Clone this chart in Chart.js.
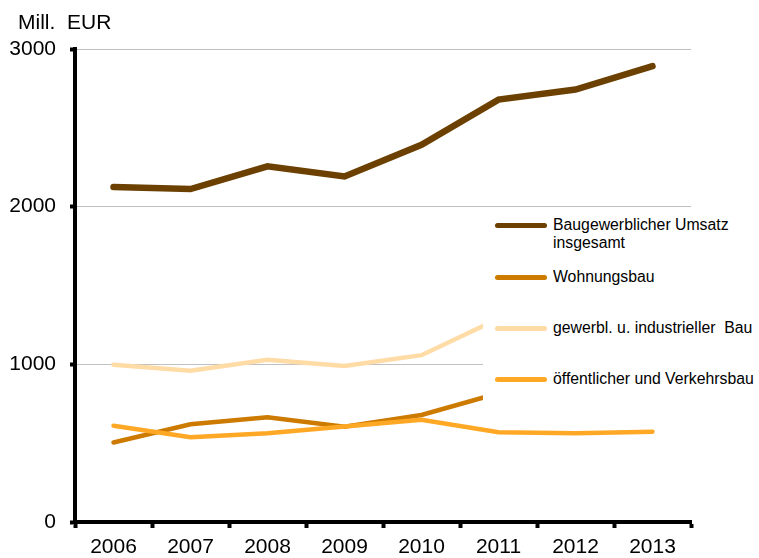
<!DOCTYPE html>
<html>
<head>
<meta charset="utf-8">
<script src="https://cdn.jsdelivr.net/npm/chart.js@4/dist/chart.umd.min.js"></script>
<style>
  body { margin: 0; background: #fff; font-family: "Liberation Sans", Arial, sans-serif; }
  #wrap { position: relative; width: 759px; height: 558px; }
  #unit { position: absolute; left: 18px; top: 10px; font-size: 21px; color: #000; white-space: pre; }
  #legend { position: absolute; left: 483px; top: 211px; width: 276px; height: 190px; background: #fff; font-size: 15.8px; color: #000; }
  .item { position: absolute; left: 12px; }
  .item span.ln { position: absolute; left: 0; width: 52px; height: 5px; border-radius: 3px; }
  .item span.tx { position: absolute; left: 58px; top: -9px; white-space: pre; line-height: 18px; }
</style>
</head>
<body>
<div id="wrap">
  <canvas id="myChart" width="759" height="558"></canvas>
  <div id="unit">Mill.  EUR</div>
  <div id="legend"></div>
</div>
<script>
'use strict';

// categories and values (Mill. EUR)
var years = ['2006', '2007', '2008', '2009', '2010', '2011', '2012', '2013'];
var yTicks = [0, 1000, 2000, 3000];

var gesamt = [2124, 2112, 2256, 2192, 2392, 2679, 2743, 2891];
var wohnungsbau = [504, 620, 665, 605, 679, 816, 850, 890];
var gewerbl = [997, 959, 1029, 990, 1058, 1289, 1330, 1390];
var oeffentlich = [611, 538, 563, 605, 648, 570, 563, 573];

var seriesNames = ['Baugewerblicher Umsatz\ninsgesamt', 'Wohnungsbau', 'gewerbl. u. industrieller  Bau', 'öffentlicher und Verkehrsbau'];
var seriesColors = ['#6b4000', '#cc7a00', '#ffdba6', '#ffa826'];
var seriesWidths = [6.5, 4.5, 4.5, 4.5];
var allValues = [gesamt, wohnungsbau, gewerbl, oeffentlich];

var datasets = [];
for (var i = 0; i < allValues.length; i++) {
    datasets.push({
        label: seriesNames[i],
        data: allValues[i],
        borderColor: seriesColors[i],
        backgroundColor: seriesColors[i],
        borderWidth: seriesWidths[i],
        borderCapStyle: 'round',
        pointRadius: 0,
        tension: 0,
        fill: false
    });
}
// draw the dark line last so it sits on top
datasets.reverse();

var font = { family: '"Liberation Sans", Arial, sans-serif', size: 21 };

var ctx = document.getElementById('myChart').getContext('2d');
var chart = new Chart(ctx, {
    type: 'line',
    data: { labels: years, datasets: datasets },
    options: {
        responsive: false,
        animation: false,
        layout: { padding: { left: 0, top: 49, right: 68, bottom: 0 } },
        plugins: { legend: { display: false }, tooltip: { enabled: false } },
        scales: {
            x: {
                offset: true,
                grid: { offset: true, drawOnChartArea: false, tickColor: '#000', tickLength: 6, tickWidth: 4 },
                border: { color: '#000', width: 4 },
                ticks: { color: '#000', font: font, padding: 7, maxRotation: 0 },
                afterFit: function (scale) { scale.height = 36; }
            },
            y: {
                min: 0,
                max: 3000,
                afterBuildTicks: function (scale) {
                    scale.ticks = yTicks.map(function (v) { return { value: v }; });
                },
                grid: {
                    color: function (c) { return c.tick && c.tick.value === 0 ? 'rgba(0,0,0,0)' : '#c0c0c0'; },
                    lineWidth: 1,
                    tickColor: '#000',
                    tickLength: 5,
                    tickWidth: 4
                },
                border: { color: '#000', width: 4 },
                ticks: {
                    color: '#000',
                    font: font,
                    padding: 14,
                    callback: function (value) { return String(value); }
                },
                afterFit: function (scale) { scale.width = 75; }
            }
        }
    }
});

// legend with white box, lying over the lines like in the original
var legendBox = document.getElementById('legend');
var rowTops = [14, 66, 117, 168];
for (var k = 0; k < seriesNames.length; k++) {
    var item = document.createElement('div');
    item.className = 'item';
    item.style.top = rowTops[k] + 'px';
    var ln = document.createElement('span');
    ln.className = 'ln';
    ln.style.background = seriesColors[k];
    ln.style.top = '-2px';
    var tx = document.createElement('span');
    tx.className = 'tx';
    tx.textContent = seriesNames[k];
    item.appendChild(ln);
    item.appendChild(tx);
    legendBox.appendChild(item);
}
</script>
</body>
</html>
